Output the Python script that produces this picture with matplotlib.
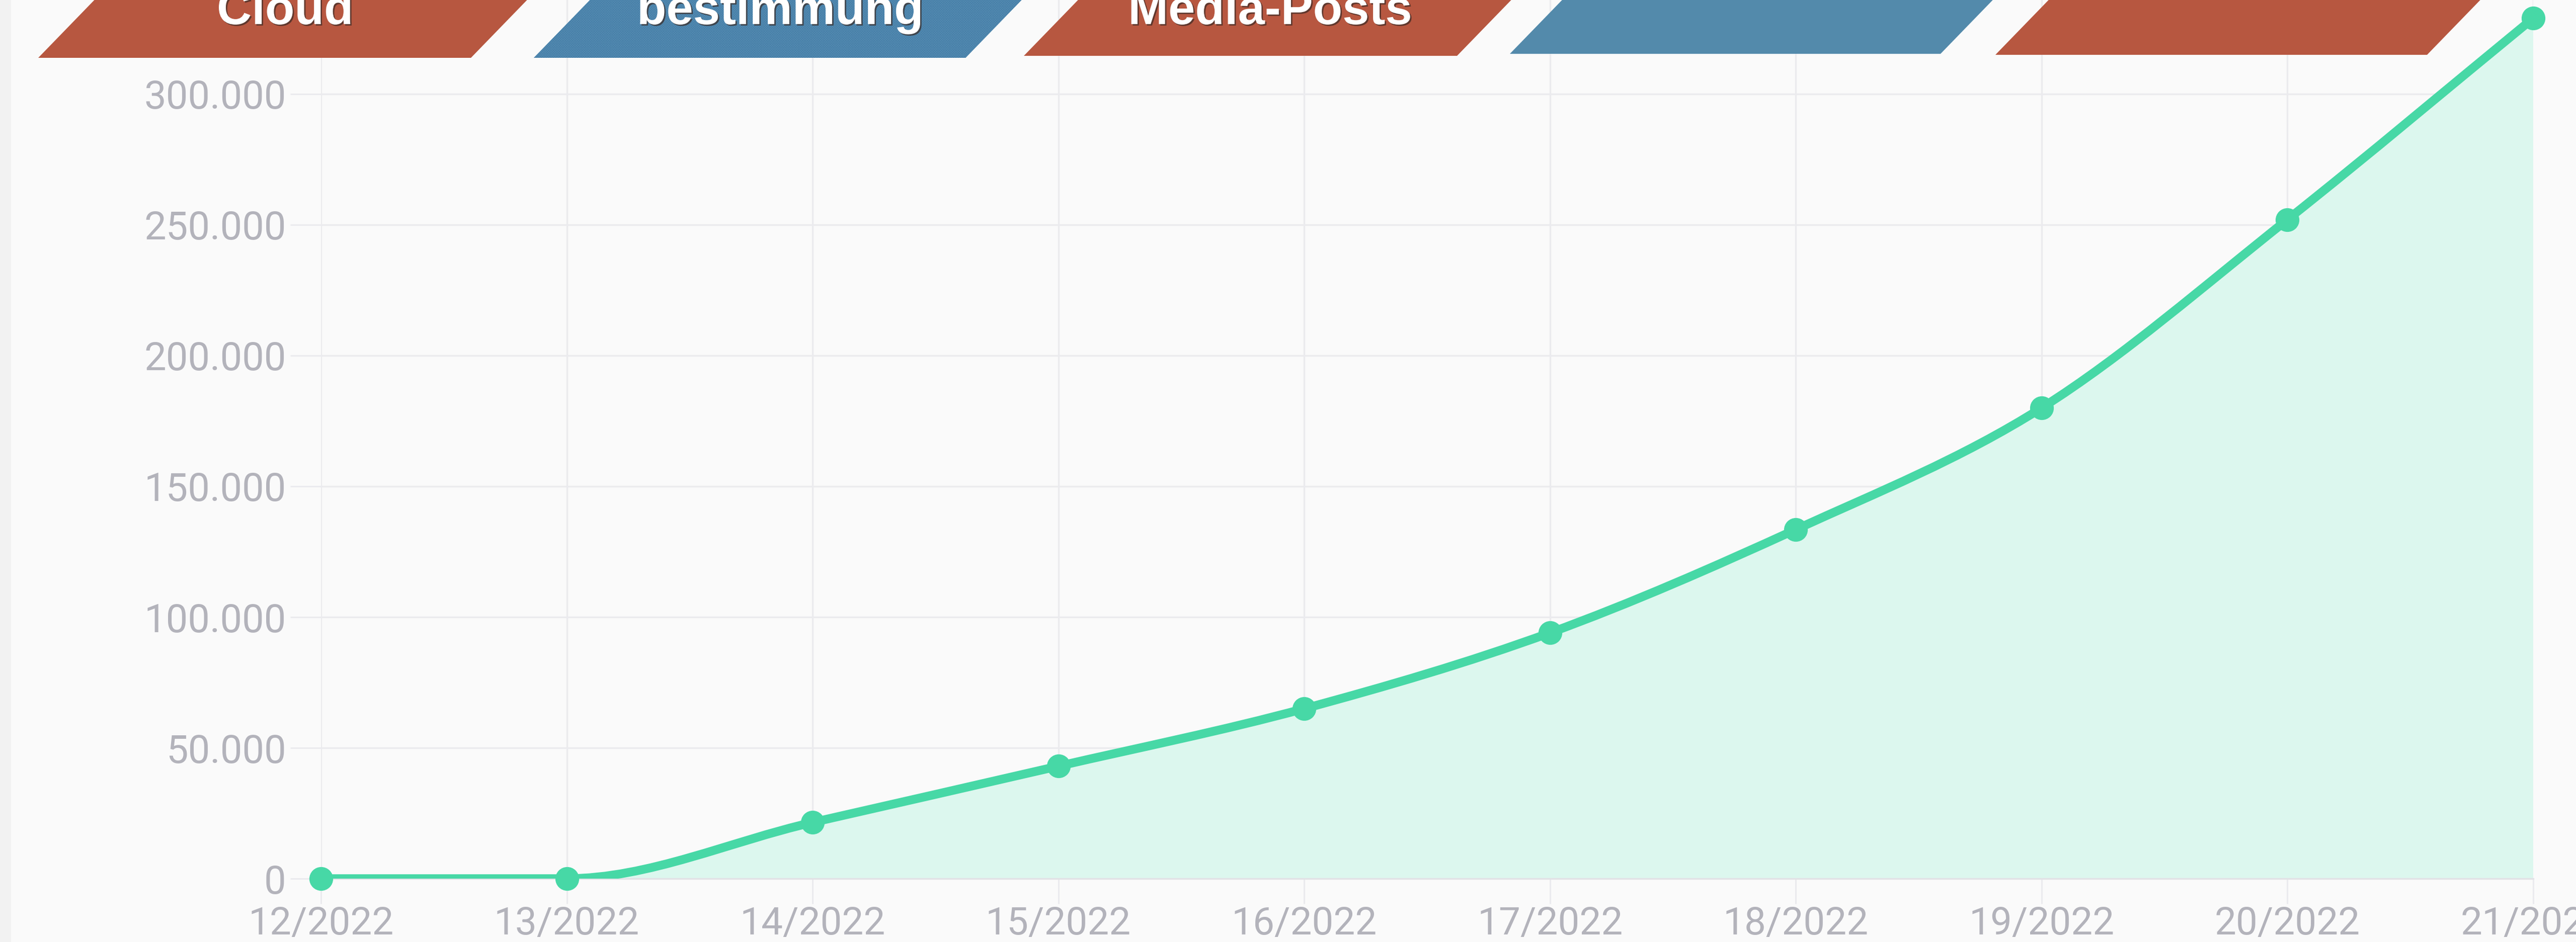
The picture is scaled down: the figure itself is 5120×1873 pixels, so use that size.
import numpy as np
import matplotlib.pyplot as plt
from matplotlib.path import Path
from matplotlib.patches import PathPatch, Polygon, Rectangle
from matplotlib.ticker import FixedLocator, FuncFormatter
import matplotlib.patheffects as pe

# Daten (Kalenderwoche / kumulierte Werte)
weeks = ["12/2022", "13/2022", "14/2022", "15/2022", "16/2022",
         "17/2022", "18/2022", "19/2022", "20/2022", "21/2022"]
values = [0, 0, 21500, 43000, 65000, 94000, 133500, 180000, 252000, 329000]
y_ticks = [0, 50000, 100000, 150000, 200000, 250000, 300000]

# Banner oben (Text ist im Bild oben abgeschnitten)
banner_texts = ["Cloud", "bestimmung", "Media-Posts", "", ""]

W, H = 5120, 1873
LINE = "#47d8a6"
FILL = "#dcf7ee"
GRID = "#ebebee"
LABEL = "#b3b3bb"


def monotone_controls(x, y):
    # monotone kubische Kontrollpunkte (wie Chart.js cubicInterpolationMode='monotone')
    n = len(x)
    dk = np.diff(y) / np.diff(x)
    mk = np.zeros(n)
    mk[0], mk[-1] = dk[0], dk[-1]
    for i in range(1, n - 1):
        mk[i] = 0 if dk[i - 1] * dk[i] <= 0 else (dk[i - 1] + dk[i]) / 2
    for i in range(n - 1):
        if abs(dk[i]) < 1e-9:
            mk[i] = mk[i + 1] = 0
            continue
        a, b = mk[i] / dk[i], mk[i + 1] / dk[i]
        tau = a * a + b * b
        if tau > 9:
            t = 3 / np.sqrt(tau)
            mk[i], mk[i + 1] = a * t * dk[i], b * t * dk[i]
    verts = [(x[0], y[0])]
    for i in range(n - 1):
        dx = (x[i + 1] - x[i]) / 3
        verts += [(x[i] + dx, y[i] + mk[i] * dx),
                  (x[i + 1] - dx, y[i + 1] - mk[i + 1] * dx),
                  (x[i + 1], y[i + 1])]
    return verts


fig = plt.figure(figsize=(W / 100, H / 100), dpi=100)
fig.patch.set_facecolor("#fafafa")
fig.patches.append(Rectangle((0, 0), 22 / W, 1, transform=fig.transFigure,
                             facecolor="#f2f2f2", edgecolor="none", zorder=0))

ax = fig.add_axes([638 / W, 126 / H, (5035 - 638) / W, 1747 / H])
ax.set_facecolor("none")
xs = np.arange(len(weeks), dtype=float)
ys = np.array(values, dtype=float)
ax.set_xlim(0, len(weeks) - 1)
ax.set_ylim(0, 1747 / 260 * 50000)

verts = monotone_controls(xs, ys)
codes = [Path.MOVETO] + [Path.CURVE4] * (len(verts) - 1)
fill_path = Path(verts + [(xs[-1], 0), (xs[0], 0), (xs[0], ys[0])],
                 codes + [Path.LINETO, Path.LINETO, Path.CLOSEPOLY])
ax.add_patch(PathPatch(fill_path, facecolor=FILL, edgecolor="none", zorder=2))
ax.add_patch(PathPatch(Path(verts, codes), facecolor="none", edgecolor=LINE,
                       lw=12.5, capstyle="round", joinstyle="round", zorder=3))
ax.plot(xs, ys, "o", ms=33, color=LINE, mec=LINE, zorder=4, clip_on=False)

ax.set_xticks(xs)
ax.set_xticklabels(weeks)
ax.yaxis.set_major_locator(FixedLocator(y_ticks))
ax.yaxis.set_major_formatter(FuncFormatter(lambda v, p: f"{int(v):,}".replace(",", ".")))
ax.grid(True, color=GRID, lw=2.4, zorder=0)
ax.set_axisbelow(True)
for s in ["top", "right", "left"]:
    ax.spines[s].set_visible(False)
ax.spines["bottom"].set_color("#e2e2e6")
ax.spines["bottom"].set_linewidth(2.4)
ax.tick_params(axis="y", length=44, width=2.2, color=GRID, pad=6,
               labelsize=56, labelcolor=LABEL)
ax.tick_params(axis="x", length=36, width=2.2, color=GRID, pad=3,
               labelsize=55, labelcolor=LABEL)
for lab in ax.get_xticklabels() + ax.get_yticklabels():
    lab.set_fontfamily("Roboto")

# Banner-Parallelogramme (Pixel unten links, Höhe, Breite)
banners = [
    (76, 115, 860, "#b75740", None),
    (1061, 115, 858, "#6b9dc0", "xxxxxxx"),
    (2035, 111, 861, "#b75740", None),
    (3001, 107, 856, "#538aab", None),
    (3966, 109, 858, "#b75740", None),
]
plt.rcParams["hatch.linewidth"] = 1.6
slant = 0.97
for (bx, by, bw, col, hatch), txt in zip(banners, banner_texts):
    top = -30
    pts = [(bx, by), (bx + bw, by), (bx + bw + slant * (by - top), top),
           (bx + slant * (by - top), top)]
    pts = [(px / W, 1 - py / H) for px, py in pts]
    if hatch:
        poly = Polygon(pts, closed=True, transform=fig.transFigure,
                       facecolor=col, edgecolor="#4a82aa", lw=0, hatch=hatch, zorder=5)
    else:
        poly = Polygon(pts, closed=True, transform=fig.transFigure,
                       facecolor=col, edgecolor="none", zorder=5)
    fig.patches.append(poly)
    if txt:
        cx = bx + bw / 2 + slant * by / 2 + 5
        fig.text(cx / W, 1 - 48 / H, txt, ha="center", va="baseline",
                 fontsize=69, fontweight="bold", color="white",
                 family="Liberation Sans", zorder=6,
                 path_effects=[pe.SimplePatchShadow(offset=(2, -2), shadow_rgbFace="#3a2a25", alpha=0.7),
                               pe.Normal()])

fig.savefig("out.png", dpi=100, facecolor=fig.get_facecolor())
